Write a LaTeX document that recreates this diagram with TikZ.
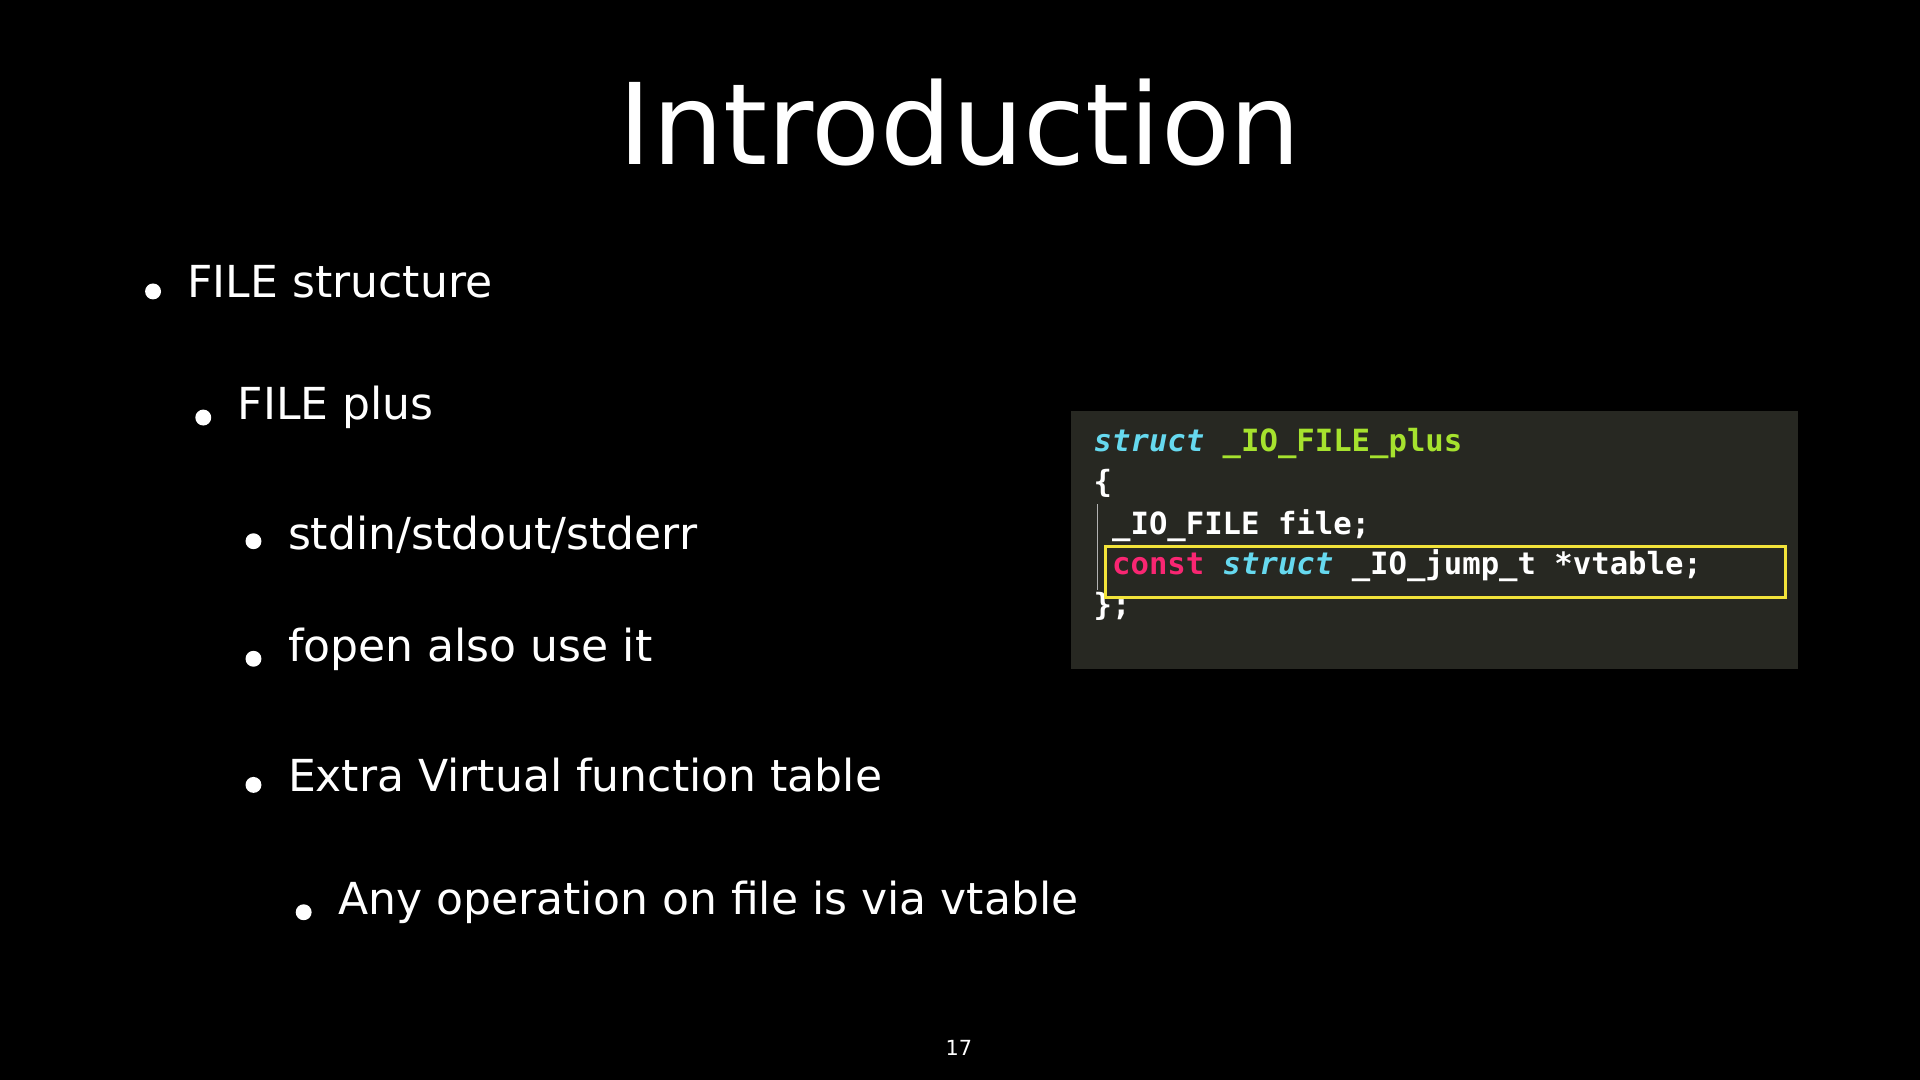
\documentclass[tikz,border=0pt]{standalone}
\usepackage{fontspec}
\setmainfont{DejaVu Sans}
\newfontfamily\codefont{DejaVu Sans Mono}
\definecolor{codebg}{HTML}{272822}
\definecolor{kwblue}{HTML}{66D9EF}
\definecolor{kwgreen}{HTML}{A6E22E}
\definecolor{kwpink}{HTML}{F92672}
\definecolor{hlyellow}{HTML}{F2E33A}
\tikzset{
  bul/.style={anchor=west,text=white,font=\fontsize{36}{40}\selectfont,inner sep=0pt},
  dotm/.style={circle,fill=white,minimum size=13pt,inner sep=0pt},
  code/.style={anchor=west,text=white,font=\codefont\bfseries\fontsize{25}{28}\selectfont,inner sep=0pt}
}
\begin{document}
\begin{tikzpicture}[x=1pt,y=-1pt]
\fill[black] (0,0) rectangle (1568,882);
\useasboundingbox (0,0) rectangle (1568,882);
\node[text=white,font=\fontsize{92}{100}\selectfont] (title) at (784,100) {Introduction};
\node[dotm] (d1) at (125,238) {}; \node[bul] (t1) at (153,230) {FILE structure};
\node[dotm] (d2) at (166,341) {}; \node[bul] (t2) at (194,333) {FILE plus};
\node[dotm] (d3) at (207,442) {}; \node[bul] (t3) at (235,437) {stdin/stdout/stderr};
\node[dotm] (d4) at (207,538) {}; \node[bul] (t4) at (235,530) {fopen also use it};
\node[dotm] (d5) at (207,641) {}; \node[bul] (t5) at (235,633) {Extra Virtual function table};
\node[dotm] (d6) at (248,745) {}; \node[bul] (t6) at (276,737) {Any operation on file is via vtable};
\fill[codebg] (875,336) rectangle (1468,546);
\draw[gray!60,line width=0.8pt] (896,412) -- (896,482);
\node[code] (c1) at (893,362) {\textcolor{kwblue}{\itshape struct} \textcolor{kwgreen}{\_IO\_FILE\_plus}};
\node[code] (c2) at (893,395) {\{};
\node[code] (c3) at (893,429) {\ \_IO\_FILE file;};
\node[code] (c4) at (893,462) {\ \textcolor{kwpink}{const} \textcolor{kwblue}{\itshape struct} \_IO\_jump\_t *vtable;};
\node[code] (c5) at (893,495) {\};};
\draw[hlyellow,line width=2.5pt] (903,446) rectangle (1458,488);
\node[text=white,font=\fontsize{17}{20}\selectfont] (pg) at (783,856) {17};
\end{tikzpicture}
\end{document}
